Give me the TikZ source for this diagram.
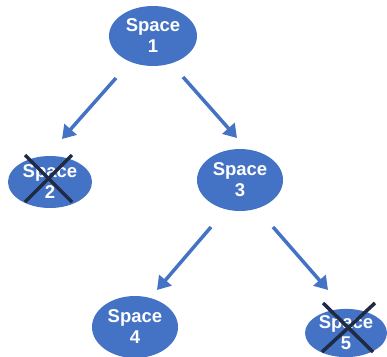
\documentclass[tikz,border=0pt]{standalone}
\usepackage{fontspec}
\setmainfont{Liberation Sans}
\usetikzlibrary{shapes.geometric,arrows.meta}
\definecolor{nodeblue}{HTML}{4472C4}
\definecolor{crossnavy}{HTML}{1F2A44}
\tikzset{
  space/.style={ellipse, fill=nodeblue, draw=none, inner sep=0pt, text=white,
    align=center, font=\bfseries\fontsize{18.5}{21}\selectfont},
  arr/.style={draw=nodeblue, line width=3.5pt, -{Triangle[length=13pt,width=16pt]}},
  crossline/.style={draw=crossnavy, line width=3.5pt}
}
\begin{document}
\begin{tikzpicture}[x=1pt,y=-1pt]
\useasboundingbox (0,0) rectangle (387,356);
\node[space, minimum width=88pt, minimum height=60pt] (s1) at (153,36) {Space\\1};
\node[space, minimum width=84pt, minimum height=52pt] (s2) at (50,182) {Space\\2};
\node[space, minimum width=86pt, minimum height=62pt] (s3) at (240,180) {Space\\3};
\node[space, minimum width=86pt, minimum height=62pt] (s4) at (135,327) {Space\\4};
\node[space, minimum width=82pt, minimum height=48pt] (s5) at (346,333) {Space\\5};
\draw[arr] ([shift={(-37,42)}]s1.center) -- ([shift={(12,-43)}]s2.center);
\draw[arr] ([shift={(30,41)}]s1.center) -- ([shift={(-3,-42)}]s3.center);
\draw[arr] ([shift={(-29,47)}]s3.center) -- ([shift={(22,-37)}]s4.center);
\draw[arr] ([shift={(33,47)}]s3.center) -- ([shift={(-18,-43)}]s5.center);
\draw[crossline] ([shift={(-25,-27)}]s2.center) -- ([shift={(22,20)}]s2.center);
\draw[crossline] ([shift={(22,-27)}]s2.center) -- ([shift={(-25,20)}]s2.center);
\draw[crossline] ([shift={(-23,-30)}]s5.center) -- ([shift={(27,19)}]s5.center);
\draw[crossline] ([shift={(29,-30)}]s5.center) -- ([shift={(-24,19)}]s5.center);
\end{tikzpicture}
\end{document}
